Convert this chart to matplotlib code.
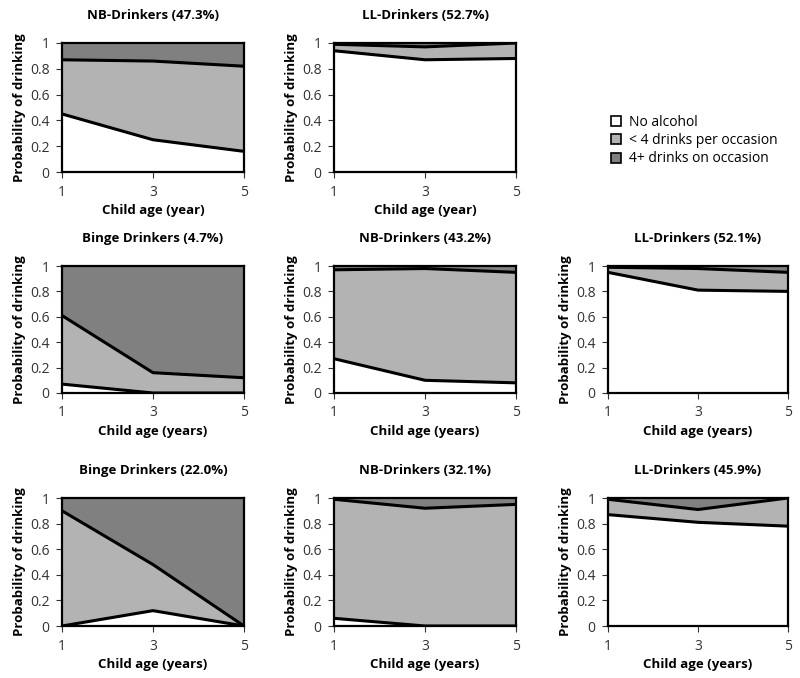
import matplotlib.pyplot as plt
from matplotlib.patches import Patch

plt.rcParams['font.family'] = ['Open Sans', 'DejaVu Sans']

# child age (years)
ages = [1, 3, 5]

# panel titles, row by row (None = empty slot)
titles = ["NB-Drinkers (47.3%)", "LL-Drinkers (52.7%)", None,
          "Binge Drinkers (4.7%)", "NB-Drinkers (43.2%)", "LL-Drinkers (52.1%)",
          "Binge Drinkers (22.0%)", "NB-Drinkers (32.1%)", "LL-Drinkers (45.9%)"]
xlabels = ["Child age (year)", "Child age (year)", None,
           "Child age (years)", "Child age (years)", "Child age (years)",
           "Child age (years)", "Child age (years)", "Child age (years)"]

# probabilities per panel: no alcohol, < 4 drinks, 4+ drinks
no_alcohol = [[0.45, 0.25, 0.16], [0.94, 0.87, 0.88], None,
              [0.07, 0.00, 0.00], [0.27, 0.10, 0.08], [0.95, 0.81, 0.80],
              [0.00, 0.12, 0.00], [0.06, 0.00, 0.00], [0.87, 0.81, 0.78]]
light = [[0.42, 0.61, 0.66], [0.05, 0.10, 0.12], None,
         [0.54, 0.16, 0.12], [0.70, 0.88, 0.87], [0.04, 0.17, 0.15],
         [0.90, 0.36, 0.00], [0.93, 0.92, 0.95], [0.12, 0.10, 0.22]]
heavy = [[0.13, 0.14, 0.18], [0.01, 0.03, 0.00], None,
         [0.39, 0.84, 0.88], [0.03, 0.02, 0.05], [0.01, 0.02, 0.05],
         [0.10, 0.52, 1.00], [0.01, 0.08, 0.05], [0.01, 0.09, 0.00]]

legend_labels = ["No alcohol", "< 4 drinks per occasion", "4+ drinks on occasion"]
colors = ["white", "#b3b3b3", "#808080"]

# axes boxes in pixels (left, right, top, bottom)
col_x = [(62, 244), (334, 516), (608, 788)]
row_y = [(43, 172), (266, 393), (498, 626)]

W, H = 800, 678
fig = plt.figure(figsize=(W / 100, H / 100), dpi=100)

for i in range(9):
    if titles[i] is None:
        continue
    r, c = divmod(i, 3)
    x0, x1 = col_x[c]
    y0, y1 = row_y[r]
    ax = fig.add_axes([x0 / W, 1 - y1 / H, (x1 - x0) / W, (y1 - y0) / H])

    ax.stackplot(ages, no_alcohol[i], light[i], heavy[i], colors=colors, linewidth=0)
    low = no_alcohol[i]
    up = [a + b for a, b in zip(no_alcohol[i], light[i])]
    ax.plot(ages, low, color="black", lw=2.2, solid_capstyle="butt")
    ax.plot(ages, up, color="black", lw=2.2, solid_capstyle="butt")

    ax.set_xlim(1, 5)
    ax.set_ylim(0, 1)
    ax.set_xticks(ages)
    ax.set_yticks([0, 0.2, 0.4, 0.6, 0.8, 1])
    ax.set_yticklabels(["0", "0.2", "0.4", "0.6", "0.8", "1"])
    ax.tick_params(labelsize=10, colors="#333333", length=4, width=0.8, pad=5)
    for s in ax.spines.values():
        s.set_color("black")
        s.set_linewidth(1.6)
    ax.set_title(titles[i], fontsize=9.5, fontweight="bold", pad=17)
    ax.set_xlabel(xlabels[i], fontsize=9.5, fontweight="bold", labelpad=3)
    ax.set_ylabel("Probability of drinking", fontsize=9.5, fontweight="bold", labelpad=3)

handles = [Patch(facecolor=col, edgecolor="black", linewidth=1.2) for col in colors]
fig.legend(handles, legend_labels, loc="upper left", bbox_to_anchor=(598 / W, 1 - 102 / H),
           frameon=False, fontsize=10, handlelength=0.75, handleheight=0.75,
           handletextpad=0.6, labelspacing=0.25)

plt.savefig("out.png", dpi=100)
